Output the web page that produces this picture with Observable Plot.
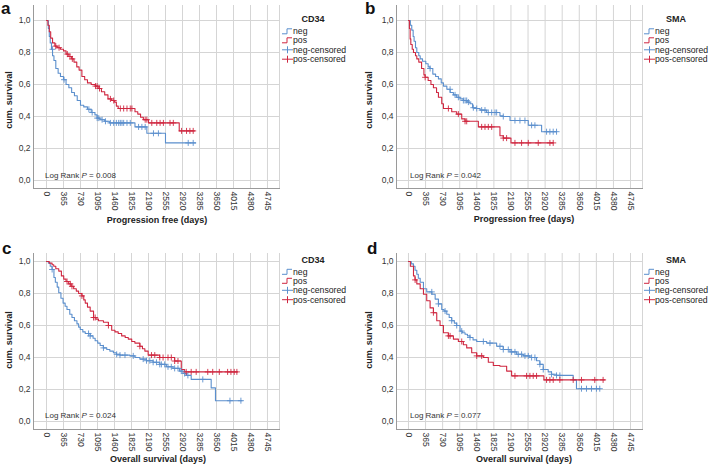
<!DOCTYPE html>
<html><head><meta charset="utf-8">
<script src="https://cdn.jsdelivr.net/npm/d3@7"></script>
<script src="https://cdn.jsdelivr.net/npm/@observablehq/plot@0.6"></script>
<style>
html,body{margin:0;padding:0;background:#fff;}
#wrap{position:relative;width:709px;height:466px;overflow:hidden;font-family:"Liberation Sans",Arial,sans-serif;}
#wrap > svg, #wrap > div{position:absolute;}
</style></head>
<body><div id="wrap"></div>
<script>
// ---- axis ticks ----
const xTicks = [0,365,730,1095,1460,1825,2190,2555,2920,3285,3650,4015,4380,4745];
const yTicks = [0,0.2,0.4,0.6,0.8,1.0];
const groups = ["neg","pos","neg-censored","pos-censored"];

// ---- panel a: CD34, progression free ----
const aNegT = [0,40,60,80,107,130,160,200,250,300,365,420,480,540,600,660,730,800,880,960,1040,1088,1150,1250,1350,1900,2155,2555,3200];
const aNegS = [1,0.95,0.9,0.86,0.82,0.78,0.75,0.70,0.67,0.65,0.63,0.60,0.58,0.55,0.53,0.50,0.47,0.46,0.445,0.425,0.41,0.39,0.38,0.37,0.36,0.335,0.295,0.235,0.235];
const aNegC = [128,377,910,981,1088,1123,1194,1266,1372,1443,1500,1550,1585,1621,1657,1728,1799,1977,2048,2119,2297,2403,3043,3150];
const aPosT = [0,30,60,90,130,180,230,300,365,420,480,540,590,650,700,760,820,880,960,1050,1110,1180,1250,1320,1400,1460,1500,1540,1900,1960,2020,2080,2190,2850,3180];
const aPosS = [1,0.97,0.93,0.89,0.86,0.84,0.83,0.82,0.81,0.79,0.775,0.76,0.74,0.71,0.69,0.65,0.63,0.61,0.60,0.59,0.575,0.555,0.535,0.51,0.50,0.49,0.465,0.45,0.43,0.415,0.395,0.38,0.36,0.31,0.31];
const aPosC = [199,270,448,505,555,1052,1088,1138,1372,1443,1585,1657,1728,1799,1834,2119,2155,2261,2368,2439,2510,2652,2723,2901,3007,3079,3150];

// ---- panel b: SMA, progression free ----
const bNegT = [0,40,70,100,120,150,178,220,250,300,370,420,460,520,580,640,700,747,820,890,960,1030,1100,1173,1250,1315,1370,1450,1530,1670,1955,2026,2170,2560,2845,3165];
const bNegS = [1,0.97,0.94,0.9,0.87,0.83,0.80,0.78,0.76,0.745,0.73,0.71,0.70,0.665,0.65,0.635,0.61,0.59,0.57,0.55,0.535,0.52,0.51,0.50,0.49,0.48,0.455,0.45,0.44,0.425,0.405,0.40,0.375,0.345,0.305,0.305];
const bNegC = [462,889,995,1066,1173,1209,1244,1280,1386,1458,1564,1635,1706,1778,1849,1884,2026,2275,2382,2489,2631,2702,2951,3022,3093,3164];
const bPosT = [0,20,35,50,80,107,150,178,220,280,330,356,420,480,533,600,640,711,747,924,1030,1138,1209,1493,1955,2026,2190,3093];
const bPosS = [1,0.95,0.885,0.85,0.82,0.80,0.78,0.76,0.74,0.70,0.66,0.645,0.625,0.60,0.58,0.55,0.52,0.48,0.45,0.43,0.415,0.385,0.37,0.335,0.28,0.265,0.235,0.235];
const bPosC = [356,853,1066,1209,1244,1564,1635,1706,1778,2026,2097,2275,2417,2560,2773,3022,3093];

// ---- panel c: CD34, overall survival ----
const cNegT = [0,40,80,120,160,190,230,263,310,356,400,440,500,547,600,654,690,725,780,832,938,1000,1045,1100,1152,1220,1294,1360,1436,1500,1578,1792,1900,2005,2147,2290,2432,2574,2716,2858,2930,3000,3107,3536,3628,4200];
const cNegS = [1,0.99,0.97,0.95,0.90,0.87,0.84,0.805,0.77,0.74,0.72,0.70,0.67,0.65,0.63,0.61,0.59,0.575,0.56,0.55,0.535,0.52,0.505,0.49,0.475,0.46,0.45,0.44,0.43,0.42,0.415,0.41,0.40,0.39,0.38,0.37,0.357,0.342,0.332,0.315,0.30,0.288,0.263,0.21,0.13,0.13];
const cNegC = [121,903,938,1223,1507,1578,1685,1863,2076,2147,2218,2290,2361,2432,2467,2538,2609,2680,2752,2823,2894,2965,3036,3356,3939,4174];
const cPosT = [0,60,120,156,200,263,320,370,420,476,530,583,640,690,760,800,832,880,938,1010,1060,1116,1223,1330,1400,1470,1540,1614,1690,1756,1830,1898,2005,2060,2112,2183,2430,2752,2894,2965,4100];
const cPosS = [1,0.99,0.98,0.97,0.955,0.94,0.91,0.89,0.875,0.86,0.845,0.83,0.815,0.80,0.785,0.76,0.74,0.715,0.69,0.65,0.64,0.63,0.62,0.60,0.57,0.56,0.55,0.535,0.525,0.515,0.50,0.49,0.47,0.455,0.44,0.415,0.40,0.378,0.325,0.31,0.31];
const cPosC = [441,512,547,761,1010,1045,1330,2005,2254,2325,2432,2503,2609,2680,2752,2823,3000,3107,3214,3463,3569,3711,3889,3960,4031,4088];

// ---- panel d: SMA, overall survival ----
const dNegT = [0,60,107,140,178,210,250,320,390,500,570,640,711,760,818,870,924,980,1030,1102,1150,1209,1260,1315,1380,1458,1671,1884,2026,2169,2311,2453,2595,2737,2808,2880,2986,3057,3164,3520,3590,4090];
const dNegS = [1,0.985,0.97,0.945,0.92,0.895,0.87,0.83,0.81,0.795,0.765,0.735,0.70,0.69,0.67,0.65,0.63,0.615,0.60,0.565,0.555,0.545,0.535,0.525,0.51,0.50,0.49,0.47,0.45,0.435,0.42,0.41,0.40,0.38,0.357,0.325,0.31,0.295,0.288,0.26,0.205,0.205];
const dNegC = [498,640,782,924,1031,1138,1315,1600,1742,1955,2026,2133,2204,2275,2346,2417,2489,2560,2631,2702,2808,2880,3057,3164,3235,3697,3804,3911,4017,4088];
const dPosT = [0,40,107,140,178,250,320,390,462,533,604,675,747,853,960,1066,1173,1244,1351,1458,1600,1706,1813,1955,2098,2204,2894,4195];
const dPosS = [1,0.97,0.91,0.885,0.86,0.83,0.795,0.755,0.71,0.68,0.63,0.60,0.555,0.535,0.515,0.50,0.48,0.46,0.43,0.41,0.40,0.37,0.35,0.345,0.315,0.285,0.26,0.26];
const dPosC = [142,533,853,889,1138,1458,1564,2275,2524,2595,2666,2737,2951,3022,3093,3235,3520,3697,3981,4159];

// ---- texts ----
const panelLetters = ["a","b","c","d"];
const markerNames = ["CD34","SMA","CD34","SMA"];
const xTitles = ["Progression free (days)","Progression free (days)","Overall survival (days)","Overall survival (days)"];
const yTitle = "cum. survival";
const pValues = ["0.008","0.042","0.024","0.077"];

const BLUE = "#5b8fcd", RED = "#cf2740", GRID = "#d5d5d5", AXIS = "#9a9a9a";
const FONT = "'Liberation Sans', Arial, sans-serif";

const steps = (T,S) => T.map((t,i)=>({t, s:S[i]}));
const cens = (T,S,C) => C.map(c => ({t:c, s:S[Math.max(0, d3.bisectRight(T,c)-1)]}));

const data = [
  {neg:[aNegT,aNegS,aNegC], pos:[aPosT,aPosS,aPosC]},
  {neg:[bNegT,bNegS,bNegC], pos:[bPosT,bPosS,bPosC]},
  {neg:[cNegT,cNegS,cNegC], pos:[cPosT,cPosS,cPosC]},
  {neg:[dNegT,dNegS,dNegC], pos:[dPosT,dPosS,dPosC]}
];

// layout per panel
const L = [
  {left:0,  top:0,   width:355, height:232, mL:33, mR:76, mT:5,  mB:44, xd:[-279,5003], yd:[-0.05,1.09375]},
  {left:355,top:0,   width:354, height:232, mL:41, mR:67, mT:5,  mB:44, xd:[-256,5001], yd:[-0.05,1.09375]},
  {left:0,  top:232, width:355, height:234, mL:33, mR:76, mT:21, mB:37, xd:[-279,5003], yd:[-0.05,1.05]},
  {left:355,top:232, width:354, height:234, mL:41, mR:67, mT:21, mB:37, xd:[-256,5001], yd:[-0.05,1.05]}
];

const wrap = document.getElementById("wrap");
const fmtY = d => d.toFixed(1).replace(".", ",");

L.forEach((p, i) => {
  const D = data[i];
  const chart = Plot.plot({
    width: p.width, height: p.height,
    marginLeft: p.mL, marginRight: p.mR, marginTop: p.mT, marginBottom: p.mB,
    style: {fontFamily: FONT, fontSize: "8.5px", color: "#333", background: "transparent", overflow: "visible"},
    x: {domain: p.xd},
    y: {domain: p.yd},
    marks: [
      Plot.gridX(xTicks, {stroke: GRID, strokeOpacity: 1}),
      Plot.gridY(yTicks, {stroke: GRID, strokeOpacity: 1}),
      Plot.frame({anchor: "right", stroke: GRID}),
      Plot.frame({anchor: "left", stroke: AXIS}),
      Plot.frame({anchor: "bottom", stroke: AXIS}),
      Plot.axisX(xTicks, {tickRotate: 90, tickSize: 0, tickPadding: 3, label: null, tickFormat: d => String(d)}),
      Plot.axisY(yTicks, {tickSize: 0, tickPadding: 3, label: null, tickFormat: fmtY}),
      Plot.line(steps(D.neg[0], D.neg[1]), {x: "t", y: "s", curve: "step-after", stroke: BLUE, strokeWidth: 1.1}),
      Plot.line(steps(D.pos[0], D.pos[1]), {x: "t", y: "s", curve: "step-after", stroke: RED, strokeWidth: 1.1}),
      Plot.dot(cens(D.neg[0], D.neg[1], D.neg[2]), {x: "t", y: "s", symbol: "plus", r: 2.1, stroke: BLUE, strokeWidth: 0.9}),
      Plot.dot(cens(D.pos[0], D.pos[1], D.pos[2]), {x: "t", y: "s", symbol: "plus", r: 2.1, stroke: RED, strokeWidth: 0.9})
    ]
  });
  chart.style.left = p.left + "px";
  chart.style.top = p.top + "px";
  wrap.appendChild(chart);
});

// ---- overlay for titles, legends, annotations ----
const ov = d3.select(wrap).append("svg")
  .attr("width", 709).attr("height", 466)
  .style("left", "0px").style("top", "0px")
  .style("font-family", FONT);

const ann = [
  {letter:[1,13.5],  yt:[9,100], xt:[157,223], lr:[45,178], leg:{tx:313, gx:282, ty:19}},
  {letter:[365,14],  yt:[369,100], xt:[524,222], lr:[410,178], leg:{tx:676, gx:644, ty:19}},
  {letter:[2,253.5], yt:[9,340], xt:[158,462], lr:[45,418], leg:{tx:313, gx:282, ty:259.5}},
  {letter:[367,253.5], yt:[369,340], xt:[524,462], lr:[410,418], leg:{tx:676, gx:644, ty:259.5}}
];

ann.forEach((a, i) => {
  ov.append("text").attr("x", a.letter[0]).attr("y", a.letter[1])
    .attr("font-size", 17).attr("font-weight", "bold").attr("fill", "#111").text(panelLetters[i]);
  ov.append("text").attr("transform", `translate(${a.yt[0]},${a.yt[1]}) rotate(-90)`)
    .attr("text-anchor", "middle").attr("dy", "0.35em")
    .attr("font-size", 9).attr("font-weight", "bold").attr("fill", "#222").text(yTitle);
  ov.append("text").attr("x", a.xt[0]).attr("y", a.xt[1])
    .attr("text-anchor", "middle").attr("font-size", 9).attr("font-weight", "bold").attr("fill", "#222").text(xTitles[i]);
  const lr = ov.append("text").attr("x", a.lr[0]).attr("y", a.lr[1]).attr("font-size", 8).attr("fill", "#333");
  lr.append("tspan").text("Log Rank ");
  lr.append("tspan").attr("font-style", "italic").text("P");
  lr.append("tspan").text(" = " + pValues[i]);
  // legend
  const lg = a.leg;
  ov.append("text").attr("x", lg.tx).attr("y", lg.ty).attr("dy", "0.35em").attr("text-anchor", "middle")
    .attr("font-size", 9).attr("font-weight", "bold").attr("fill", "#222").text(markerNames[i]);
  const rowsY = [12.3, 21.3, 30.8, 40.2];
  groups.forEach((g, k) => {
    const y = lg.ty + rowsY[k];
    const col = g.startsWith("neg") ? BLUE : RED;
    if (k < 2) {
      ov.append("path").attr("d", `M${lg.gx},${y+2.5}H${lg.gx+5}V${y-2.5}H${lg.gx+10}`)
        .attr("fill", "none").attr("stroke", col).attr("stroke-width", 1);
    } else {
      ov.append("path").attr("d", `M${lg.gx},${y}H${lg.gx+11}M${lg.gx+5.5},${y-3.5}V${y+3.5}`)
        .attr("fill", "none").attr("stroke", col).attr("stroke-width", 1);
    }
    ov.append("text").attr("x", lg.gx + 11).attr("y", y).attr("dy", "0.35em")
      .attr("font-size", 8.7).attr("fill", "#222").text(g);
  });
});
</script></body></html>
